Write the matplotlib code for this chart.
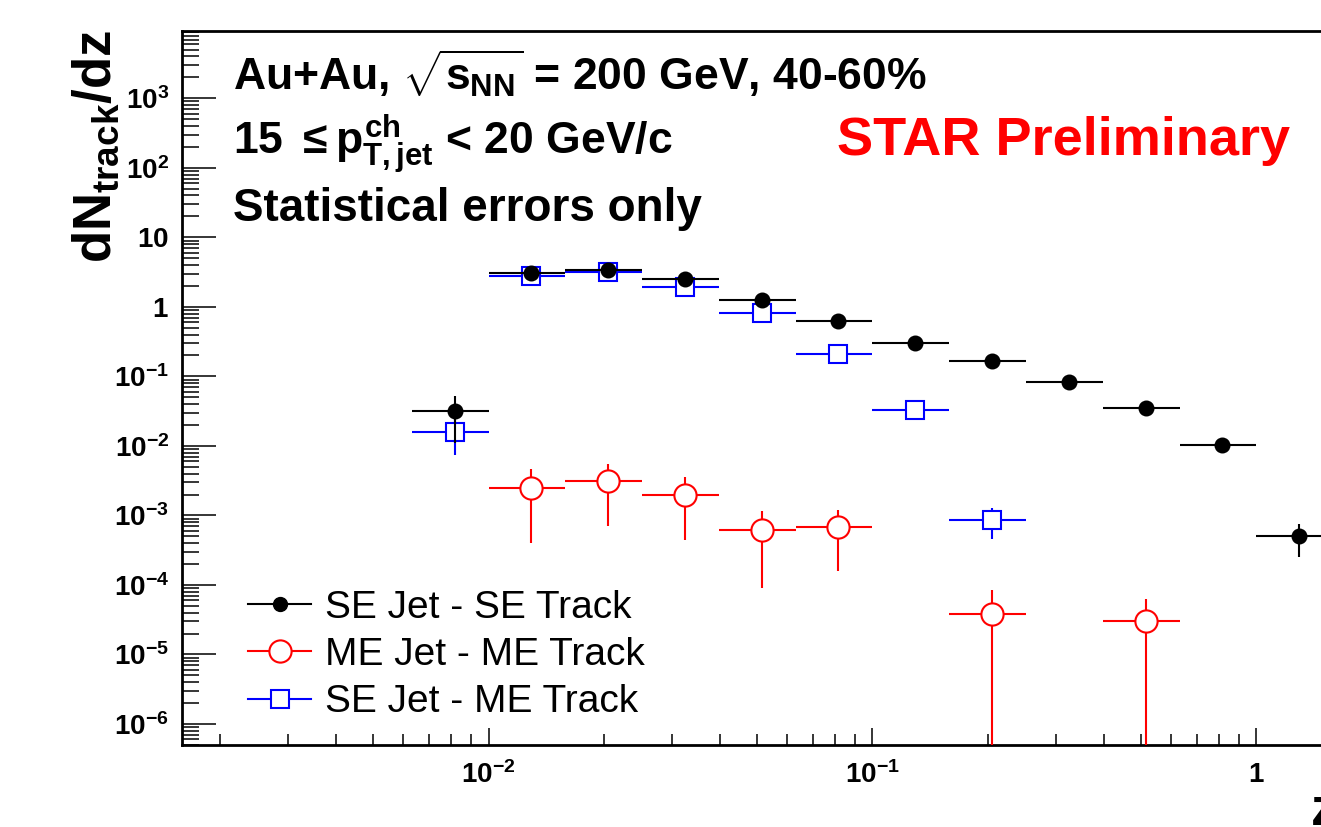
import numpy as np
import matplotlib
matplotlib.use('Agg')
import matplotlib.pyplot as plt
from matplotlib.lines import Line2D
from matplotlib.ticker import LogLocator, FuncFormatter, NullFormatter

plt.rcParams['font.family'] = ['Liberation Sans', 'DejaVu Sans']
plt.rcParams['mathtext.fontset'] = 'custom'
plt.rcParams['mathtext.rm'] = 'Liberation Sans:bold'
plt.rcParams['mathtext.it'] = 'Liberation Sans:bold'
plt.rcParams['mathtext.bf'] = 'Liberation Sans:bold'
plt.rcParams['mathtext.sf'] = 'Liberation Sans:bold'

# z bin edges (log binning, 0.2 decade)
z_edges = np.array([0.00631, 0.01, 0.01585, 0.0251, 0.0398, 0.0631, 0.1,
                    0.1585, 0.251, 0.398, 0.631, 1.0, 1.585])

# SE Jet - SE Track
se_se = np.array([0.032, 3.05, 3.37, 2.5, 1.25, 0.62, 0.30, 0.166, 0.083, 0.035, 0.0103, 5.0e-4])
se_se_err = np.array([0.021, 0.1, 0.1, 0.08, 0.04, 0.02, 0.01, 0.005, 0.003, 0.0015, 0.0006, 2.5e-4])

# ME Jet - ME Track
me_me = np.array([np.nan, 2.5e-3, 3.1e-3, 2.0e-3, 6.2e-4, 6.8e-4, np.nan, 3.8e-5, np.nan, 3.0e-5, np.nan, np.nan])
me_me_err = np.array([np.nan, 2.1e-3, 2.4e-3, 1.55e-3, 5.3e-4, 5.2e-4, np.nan, 4.7e-5, np.nan, 3.2e-5, np.nan, np.nan])

# SE Jet - ME Track
se_me = np.array([0.0158, 2.75, 3.14, 1.92, 0.81, 0.21, 0.033, 8.6e-4, np.nan, np.nan, np.nan, np.nan])
se_me_err = np.array([0.0085, 0.1, 0.1, 0.06, 0.03, 0.01, 0.003, 4.0e-4, np.nan, np.nan, np.nan, np.nan])

labels = ['SE Jet - SE Track', 'ME Jet - ME Track', 'SE Jet - ME Track']

W, H = 1321, 827
fig = plt.figure(figsize=(W / 100, H / 100), dpi=100)
ax = fig.add_axes([181.5 / W, 1 - 745 / H, 1190 / W, 714 / H])

lo = z_edges[:-1]
hi = z_edges[1:]
z = (lo + hi) / 2
xlo = z - lo
xhi = hi - z


def draw(y, err, color, marker, ms, mfc, zo):
    m = ~np.isnan(y)
    ax.errorbar(z[m], y[m], xerr=[xlo[m], xhi[m]], yerr=err[m], fmt=marker,
                color=color, mfc=mfc, mec=color, ms=ms, mew=1.5,
                elinewidth=1.5, capsize=0, zorder=zo)


draw(se_me, se_me_err, 'blue', 's', 12.5, 'white', 3)
draw(me_me, me_me_err, 'red', 'o', 16, 'white', 4)
draw(se_se, se_se_err, 'black', 'o', 10, 'black', 5)

ax.set_xscale('log')
ax.set_yscale('log')
ax.set_xlim(10 ** -2.8, 10 ** 0.3)
ax.set_ylim(10 ** -6.302, 10 ** 3.968)


def fmt(v, pos):
    e = int(round(np.log10(v)))
    if e == 0:
        return r'$1$'
    if e == 1:
        return r'$10$'
    return r'$10^{%d}$' % e


for axis in (ax.xaxis, ax.yaxis):
    axis.set_major_locator(LogLocator(base=10, numticks=30))
    axis.set_minor_locator(LogLocator(base=10, subs=np.arange(2, 10), numticks=30))
    axis.set_major_formatter(FuncFormatter(fmt))
    axis.set_minor_formatter(NullFormatter())

ax.tick_params(axis='y', which='major', direction='in', length=24.5, width=1.1,
               left=True, right=False, labelsize=20, pad=9)
ax.tick_params(axis='y', which='minor', direction='in', length=12, width=1.1,
               left=True, right=False)
ax.tick_params(axis='x', which='major', direction='in', length=12, width=1.1,
               bottom=True, top=False, labelsize=20, pad=12)
ax.tick_params(axis='x', which='minor', direction='in', length=8, width=1.1,
               bottom=True, top=False)
for s in ax.spines.values():
    s.set_linewidth(2)

fig.text(96 / W, 1 - 30 / H, r'$dN_{track}/dz$', rotation=90, ha='center', va='top', fontsize=38)
fig.text(1310 / W, 1 - 786 / H, r'$z$', ha='left', va='top', fontsize=38)

fig.text(233 / W, 1 - 90 / H, r'Au+Au, $\sqrt{s_{NN}}$ = 200 GeV, 40-60%',
         fontsize=32, fontweight='bold', va='baseline')
fig.text(233 / W, 1 - 155 / H, r'15 $\leq p_{T,jet}^{ch}$ < 20 GeV/c',
         fontsize=32, fontweight='bold', va='baseline')
fig.text(233 / W, 1 - 221 / H, 'Statistical errors only',
         fontsize=33, fontweight='bold', va='baseline')
fig.text(837 / W, 1 - 155 / H, 'STAR Preliminary', color='red',
         fontsize=39, fontweight='bold', va='baseline')

handles = [
    Line2D([], [], color='black', marker='o', ms=10, mfc='black', lw=1.5),
    Line2D([], [], color='red', marker='o', ms=16, mfc='white', mew=1.5, lw=1.5),
    Line2D([], [], color='blue', marker='s', ms=12.5, mfc='white', mew=1.5, lw=1.5),
]
fig.legend(handles, labels, loc='center left', bbox_to_anchor=(248 / W, 1 - 655 / H),
           frameon=False, fontsize=28, handlelength=1.62, handletextpad=0.36,
           labelspacing=0.29, borderpad=0, borderaxespad=0)

fig.savefig('out.png', dpi=100)
